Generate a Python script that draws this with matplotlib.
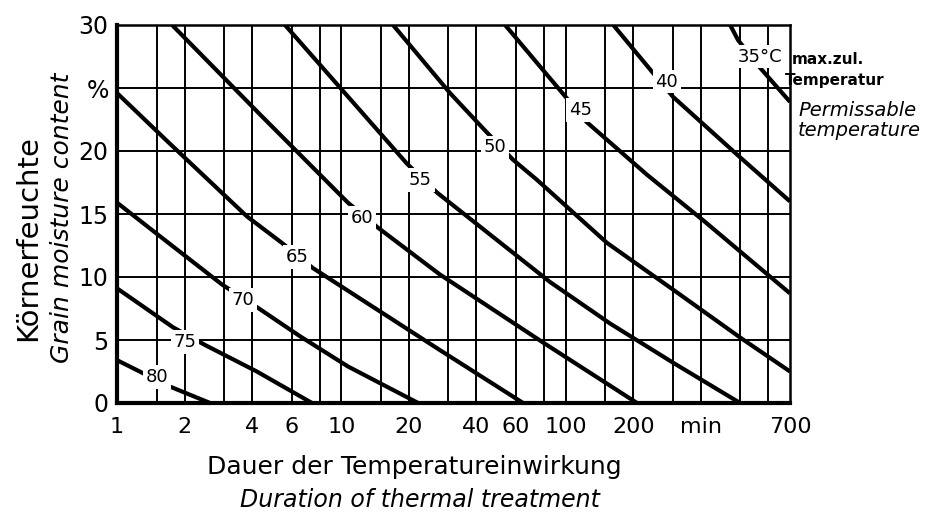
import numpy as np
import matplotlib
matplotlib.use("Agg")
import matplotlib.pyplot as plt
from matplotlib.ticker import FixedLocator, NullLocator

# curves of permissible temperature (x in min, y in %)
c80_x = [1, 1.23, 1.67, 2.6]
c80_y = [3.4, 2.6, 1.4, 0]
c75_x = [1, 1.78, 2.47, 4.2, 7.4]
c75_y = [9.1, 6.0, 4.6, 2.5, 0]
c70_x = [1, 1.67, 2.94, 4.21, 6.54, 10.7, 22]
c70_y = [15.9, 12.8, 9.4, 7.6, 5.3, 2.9, 0]
c65_x = [1, 1.67, 3.8, 5.44, 7.48, 27.5, 64.6]
c65_y = [24.6, 20.8, 14.8, 12.7, 10.7, 4.2, 0]
c60_x = [1.76, 4.34, 10.7, 14.6, 27.5, 79.3, 208]
c60_y = [30, 22.9, 15.9, 13.9, 10.2, 4.8, 0]
c55_x = [5.61, 19.6, 26.7, 41.5, 85.2, 158, 301, 599]
c55_y = [30, 19.0, 16.7, 14.0, 9.6, 6.3, 3.2, 0]
c50_x = [17.0, 30.5, 42.8, 58.3, 74.6, 153, 301, 599, 1000]
c50_y = [30, 24.6, 21.8, 19.3, 17.7, 12.7, 9.0, 5.2, 2.5]
c45_x = [53.7, 101, 124, 231, 410, 1000]
c45_y = [30, 24.2, 22.3, 18.1, 14.5, 8.7]
c40_x = [163, 245, 301, 599, 1000]
c40_y = [30, 26.2, 24.3, 19.5, 16.0]
c35_x = [541, 587, 736, 1000]
c35_y = [30, 28.8, 26.6, 23.9]

curves = [(c80_x, c80_y), (c75_x, c75_y), (c70_x, c70_y), (c65_x, c65_y),
          (c60_x, c60_y), (c55_x, c55_y), (c50_x, c50_y), (c45_x, c45_y),
          (c40_x, c40_y), (c35_x, c35_y)]

# curve labels and where they sit
lab_text = ["80", "75", "70", "65", "60", "55", "50", "45", "40", "35°C"]
lab_x = [1.51, 2.01, 3.65, 6.35, 12.4, 22.5, 48.4, 116, 282, 736]
lab_y = [2.06, 4.84, 8.17, 11.6, 14.7, 17.7, 20.3, 23.25, 25.5, 27.5]

grid_x = [1.5, 2, 3, 4, 6, 8, 10, 15, 20, 30, 40, 60, 80, 100, 150, 200, 300, 400, 600, 800]
grid_y = [5, 10, 15, 20, 25]
xtick_pos = [1, 2, 4, 6, 10, 20, 40, 60, 100, 200, 400, 1000]
xtick_lab = ["1", "2", "4", "6", "10", "20", "40", "60", "100", "200", "min", "700"]
ytick_pos = [0, 5, 10, 15, 20, 25, 30]
ytick_lab = ["0", "5", "10", "15", "20", "%", "30"]

fig = plt.figure(figsize=(9.39, 5.17), dpi=100)
ax = fig.add_axes([117/939, 1 - 403/517, 673/939, 378/517])
ax.set_xscale("log")
ax.set_xlim(1, 1000)
ax.set_ylim(0, 30)

for gx in grid_x:
    ax.axvline(gx, color="black", lw=1.4, zorder=1)
for gy in grid_y:
    ax.axhline(gy, color="black", lw=1.4, zorder=1)

for cx, cy in curves:
    ax.plot(cx, cy, color="black", lw=3.0, solid_capstyle="butt",
            solid_joinstyle="round", zorder=2)

for t, x, y in zip(lab_text, lab_x, lab_y):
    ax.text(x, y, t, ha="center", va="center", fontsize=13, zorder=3,
            bbox=dict(boxstyle="square,pad=0.15", fc="white", ec="none"))

ax.xaxis.set_major_locator(FixedLocator(xtick_pos))
ax.xaxis.set_minor_locator(NullLocator())
ax.set_xticklabels(xtick_lab)
ax.set_yticks(ytick_pos)
ax.set_yticklabels(ytick_lab)
ax.tick_params(length=0, labelsize=17, pad=6)
ax.tick_params(axis="x", labelsize=16, pad=10)

for s in ["left", "bottom"]:
    ax.spines[s].set_linewidth(3)
for s in ["top", "right"]:
    ax.spines[s].set_linewidth(1.8)

fig.text(792/939, 1 - 60/517, "max.zul.", fontsize=11, fontweight="bold", va="center")
fig.text(785/939, 1 - 80/517, "Temperatur", fontsize=11, fontweight="bold", va="center")
fig.text(798/939, 1 - 110/517, "Permissable", fontsize=14, style="italic", va="center")
fig.text(798/939, 1 - 131/517, "temperature", fontsize=14, style="italic", va="center")

fig.text(28/939, 1 - 238/517, "Körnerfeuchte", fontsize=21, rotation=90, ha="center", va="center")
fig.text(62/939, 1 - 218/517, "Grain moisture content", fontsize=18, style="italic",
         rotation=90, ha="center", va="center")
fig.text(414/939, 1 - 467/517, "Dauer der Temperatureinwirkung", fontsize=18, ha="center", va="center")
fig.text(420/939, 1 - 500/517, "Duration of thermal treatment", fontsize=17, style="italic",
         ha="center", va="center")

fig.savefig("out.png", dpi=100)
